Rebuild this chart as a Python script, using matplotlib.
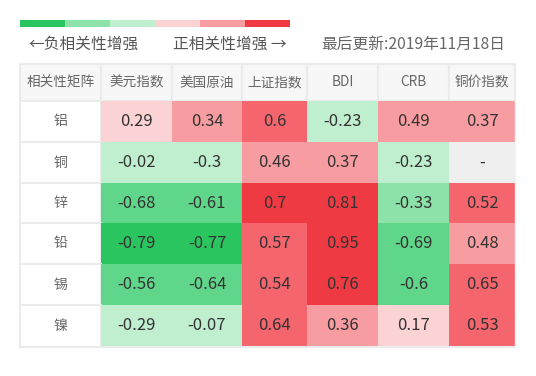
import numpy as np
import matplotlib.pyplot as plt
from matplotlib.patches import Rectangle

plt.rcParams['font.family'] = ['Noto Sans CJK SC', 'DejaVu Sans']

### table data
col_names = ['相关性矩阵', '美元指数', '美国原油', '上证指数', 'BDI', 'CRB', '铜价指数']
row_names = ['铝', '铜', '锌', '铅', '锡', '镍']
corr = [
    [0.29, 0.34, 0.6, -0.23, 0.49, 0.37],
    [-0.02, -0.3, 0.46, 0.37, -0.23, None],
    [-0.68, -0.61, 0.7, 0.81, -0.33, 0.52],
    [-0.79, -0.77, 0.57, 0.95, -0.69, 0.48],
    [-0.56, -0.64, 0.54, 0.76, -0.6, 0.65],
    [-0.29, -0.07, 0.64, 0.36, 0.17, 0.53],
]
bounds = [-0.7, -0.5, -0.3, 0, 0.3, 0.5, 0.7]
colors = ['#2bc55f', '#5fd68a', '#8de2a9', '#c0efcf',
          '#fcd3d5', '#f79ca0', '#f4656d', '#f03a43']
legend_idx = [0, 2, 3, 4, 5, 7]
update_text = '最后更新:2019年11月18日'

# layout in pixels
col_edges = [20, 101, 172, 242, 307, 378, 449, 515]
row_edges = [64, 101, 142, 183, 223, 264, 305, 347]

fig = plt.figure(figsize=(5.36, 3.76), dpi=100)
ax = fig.add_axes([0, 0, 1, 1])
ax.set_xlim(0, 536)
ax.set_ylim(376, 0)
ax.axis('off')

# legend bar
seg = (290 - 20) / len(legend_idx)
for k, ci in enumerate(legend_idx):
    ax.add_patch(Rectangle((20 + k * seg, 20), seg, 6.5, color=colors[ci], lw=0))
ax.text(28, 44, '←负相关性增强', fontsize=11.3, color='#555555', va='center', ha='left')
ax.text(287, 44, '正相关性增强 →', fontsize=11.3, color='#555555', va='center', ha='right')
ax.text(505, 44, update_text, fontsize=11.3, color='#666666', va='center', ha='right')

# header row
y0, y1 = row_edges[0], row_edges[1]
for j, name in enumerate(col_names):
    x0, x1 = col_edges[j], col_edges[j + 1]
    ax.add_patch(Rectangle((x0, y0), x1 - x0, y1 - y0, facecolor='#f7f7f7',
                           edgecolor='#ebebeb', lw=1.5))
    ax.text((x0 + x1) / 2, (y0 + y1) / 2, name, fontsize=9.8, color='#666666',
            ha='center', va='center')

# body
for i, rname in enumerate(row_names):
    y0, y1 = row_edges[i + 1], row_edges[i + 2]
    x0, x1 = col_edges[0], col_edges[1]
    ax.add_patch(Rectangle((x0, y0), x1 - x0, y1 - y0, facecolor='white',
                           edgecolor='#ebebeb', lw=1.5))
    ax.text((x0 + x1) / 2, (y0 + y1) / 2, rname, fontsize=10, color='#666666',
            ha='center', va='center')
    for j, v in enumerate(corr[i]):
        x0, x1 = col_edges[j + 1], col_edges[j + 2]
        if v is None:
            fc, label = '#efefef', '-'
        else:
            fc, label = colors[np.digitize(v, bounds)], f'{v:g}'
        ax.add_patch(Rectangle((x0, y0), x1 - x0, y1 - y0, facecolor=fc, lw=0))
        ax.text((x0 + x1) / 2, (y0 + y1) / 2, label, fontsize=12, color='#333333',
                ha='center', va='center')

# outer bottom/right border
ax.plot([col_edges[0], col_edges[-1]], [row_edges[-1], row_edges[-1]], color='#ebebeb', lw=1.5)
ax.plot([col_edges[-1], col_edges[-1]], [row_edges[1], row_edges[-1]], color='#f3f3f3', lw=1)

fig.savefig('out.png', dpi=100)
